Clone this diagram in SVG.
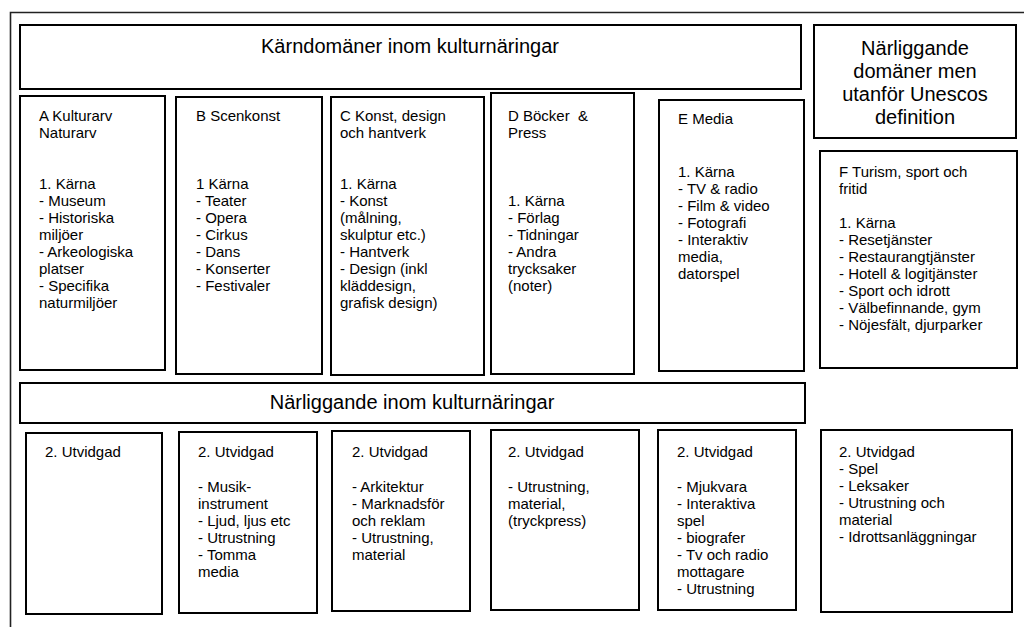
<svg xmlns="http://www.w3.org/2000/svg" width="1024" height="627" viewBox="0 0 1024 627">
<style>
.box{fill:#fff;stroke:#000;stroke-width:2}
.frame{fill:none;stroke:#222;stroke-width:1.6}
.t{font-family:"Liberation Sans",Arial,sans-serif;font-size:15px;fill:#000}
.h{font-family:"Liberation Sans",Arial,sans-serif;font-size:20px;fill:#000;text-anchor:middle}
</style>
<rect width="1024" height="627" fill="#fff"/>
<path class="frame" d="M10.5,627 V12.5 H1024"/>

<g id="header-core">
<rect class="box" x="20" y="25" width="781" height="64"/>
<text class="h" x="410" y="53">Kärndomäner inom kulturnäringar</text>
</g>

<g id="header-outside">
<rect class="box" x="814" y="25" width="202" height="113"/>
<text class="h"><tspan x="915" y="55">Närliggande</tspan><tspan x="915" y="78">domäner men</tspan><tspan x="915" y="101">utanför Unescos</tspan><tspan x="915" y="124">definition</tspan></text>
</g>

<g id="A-core">
<rect class="box" x="20" y="96" width="145" height="274"/>
<text class="t"><tspan x="39" y="121">A Kulturarv</tspan><tspan x="39" y="138">Naturarv</tspan><tspan x="39" y="189">1. Kärna</tspan><tspan x="39" y="206">- Museum</tspan><tspan x="39" y="223">- Historiska</tspan><tspan x="39" y="240">miljöer</tspan><tspan x="39" y="257">- Arkeologiska</tspan><tspan x="39" y="274">platser</tspan><tspan x="39" y="291">- Specifika</tspan><tspan x="39" y="308">naturmiljöer</tspan></text>
</g>

<g id="B-core">
<rect class="box" x="176" y="97" width="146" height="277"/>
<text class="t"><tspan x="196" y="121">B Scenkonst</tspan><tspan x="196" y="189">1 Kärna</tspan><tspan x="196" y="206">- Teater</tspan><tspan x="196" y="223">- Opera</tspan><tspan x="196" y="240">- Cirkus</tspan><tspan x="196" y="257">- Dans</tspan><tspan x="196" y="274">- Konserter</tspan><tspan x="196" y="291">- Festivaler</tspan></text>
</g>

<g id="C-core">
<rect class="box" x="331" y="97" width="153" height="278"/>
<text class="t"><tspan x="340" y="121">C Konst, design</tspan><tspan x="340" y="138">och hantverk</tspan><tspan x="340" y="189">1. Kärna</tspan><tspan x="340" y="206">- Konst</tspan><tspan x="340" y="223">(målning,</tspan><tspan x="340" y="240">skulptur etc.)</tspan><tspan x="340" y="257">- Hantverk</tspan><tspan x="340" y="274">- Design (inkl</tspan><tspan x="340" y="291">kläddesign,</tspan><tspan x="340" y="308">grafisk design)</tspan></text>
</g>

<g id="D-core">
<rect class="box" x="491" y="93" width="143" height="281"/>
<text class="t"><tspan x="508" y="121">D Böcker&#160; &amp;</tspan><tspan x="508" y="138">Press</tspan><tspan x="508" y="206">1. Kärna</tspan><tspan x="508" y="223">- Förlag</tspan><tspan x="508" y="240">- Tidningar</tspan><tspan x="508" y="257">- Andra</tspan><tspan x="508" y="274">trycksaker</tspan><tspan x="508" y="291">(noter)</tspan></text>
</g>

<g id="E-core">
<rect class="box" x="659" y="100" width="145" height="271"/>
<text class="t"><tspan x="678" y="124">E Media</tspan><tspan x="678" y="177">1. Kärna</tspan><tspan x="678" y="194">- TV &amp; radio</tspan><tspan x="678" y="211">- Film &amp; video</tspan><tspan x="678" y="228">- Fotografi</tspan><tspan x="678" y="245">- Interaktiv</tspan><tspan x="678" y="262">media,</tspan><tspan x="678" y="279">datorspel</tspan></text>
</g>

<g id="F-core">
<rect class="box" x="820" y="151" width="197" height="217"/>
<text class="t"><tspan x="839" y="177">F Turism, sport och</tspan><tspan x="839" y="194">fritid</tspan><tspan x="839" y="228">1. Kärna</tspan><tspan x="839" y="245">- Resetjänster</tspan><tspan x="839" y="262">- Restaurangtjänster</tspan><tspan x="839" y="279">- Hotell &amp; logitjänster</tspan><tspan x="839" y="296">- Sport och idrott</tspan><tspan x="839" y="313">- Välbefinnande, gym</tspan><tspan x="839" y="330">- Nöjesfält, djurparker</tspan></text>
</g>

<g id="header-related">
<rect class="box" x="20" y="383" width="785" height="40"/>
<text class="h" x="412" y="409">Närliggande inom kulturnäringar</text>
</g>

<g id="A-extended">
<rect class="box" x="26" y="433" width="136" height="181"/>
<text class="t"><tspan x="45" y="457">2. Utvidgad</tspan></text>
</g>

<g id="B-extended">
<rect class="box" x="179" y="432" width="138" height="181"/>
<text class="t"><tspan x="198" y="457">2. Utvidgad</tspan><tspan x="198" y="492">- Musik-</tspan><tspan x="198" y="509">instrument</tspan><tspan x="198" y="526">- Ljud, ljus etc</tspan><tspan x="198" y="543">- Utrustning</tspan><tspan x="198" y="560">- Tomma</tspan><tspan x="198" y="577">media</tspan></text>
</g>

<g id="C-extended">
<rect class="box" x="332" y="431" width="138" height="180"/>
<text class="t"><tspan x="352" y="457">2. Utvidgad</tspan><tspan x="352" y="492">- Arkitektur</tspan><tspan x="352" y="509">- Marknadsför</tspan><tspan x="352" y="526">och reklam</tspan><tspan x="352" y="543">- Utrustning,</tspan><tspan x="352" y="560">material</tspan></text>
</g>

<g id="D-extended">
<rect class="box" x="491" y="430" width="148" height="180"/>
<text class="t"><tspan x="508" y="457">2. Utvidgad</tspan><tspan x="508" y="492">- Utrustning,</tspan><tspan x="508" y="509">material,</tspan><tspan x="508" y="526">(tryckpress)</tspan></text>
</g>

<g id="E-extended">
<rect class="box" x="658" y="430" width="138" height="180"/>
<text class="t"><tspan x="677" y="457">2. Utvidgad</tspan><tspan x="677" y="492">- Mjukvara</tspan><tspan x="677" y="509">- Interaktiva</tspan><tspan x="677" y="526">spel</tspan><tspan x="677" y="543">- biografer</tspan><tspan x="677" y="560">- Tv och radio</tspan><tspan x="677" y="577">mottagare</tspan><tspan x="677" y="594">- Utrustning</tspan></text>
</g>

<g id="F-extended">
<rect class="box" x="821" y="430" width="191" height="182"/>
<text class="t"><tspan x="839" y="457">2. Utvidgad</tspan><tspan x="839" y="474">- Spel</tspan><tspan x="839" y="491">- Leksaker</tspan><tspan x="839" y="508">- Utrustning och</tspan><tspan x="839" y="525">material</tspan><tspan x="839" y="542">- Idrottsanläggningar</tspan></text>
</g>
</svg>
